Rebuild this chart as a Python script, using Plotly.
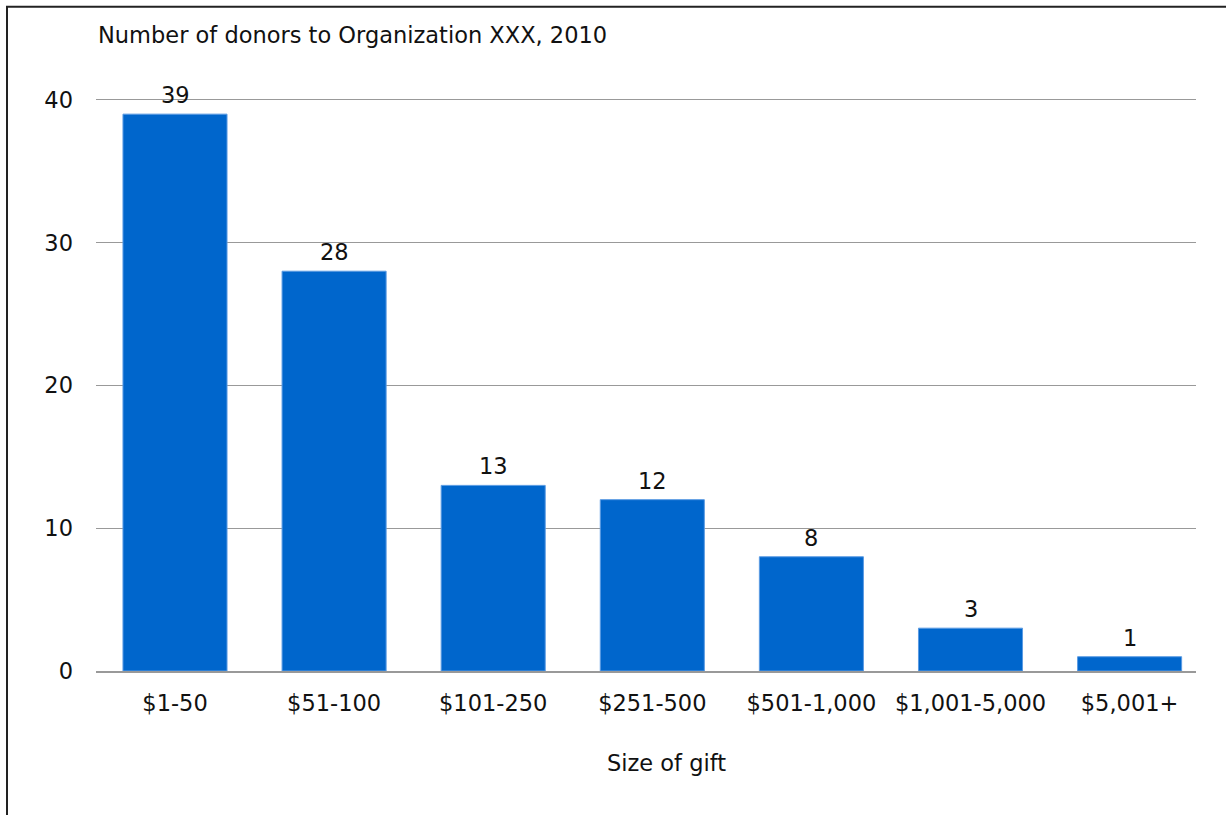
import plotly.graph_objects as go

categories = ["$1-50", "$51-100", "$101-250", "$251-500", "$501-1,000", "$1,001-5,000", "$5,001+"]
donors = [39, 28, 13, 12, 8, 3, 1]
y_ticks = [0, 10, 20, 30, 40]

FONT = "DejaVu Sans"
FS = 22.5
W, H = 1226, 815
Y_TOP = 40.2
L, R, B = 96, 1196, 671
T = B - (B - 100) * Y_TOP / 40.0

# category band geometry (pixels): first centre, spacing
C0, STEP = 175.0, 159.1
X_RANGE = [-(C0 - L) / STEP, (R - C0) / STEP]

def px_x(p):
    return (p - L) / (R - L)

def px_y(p):
    return (B - p) / (B - T)

fig = go.Figure()
fig.add_trace(go.Bar(
    x=categories, y=donors,
    marker=dict(color="#0066cc", line=dict(color="#5b9be3", width=1)),
    hoverinfo="x+y",
))

annotations = []
for c, v in zip(categories, donors):
    annotations.append(dict(x=c, y=v, xref="x", yref="y", text=str(v), showarrow=False,
                            yanchor="bottom", yshift=4, font=dict(family=FONT, size=FS, color="#111")))
annotations.append(dict(x=px_x(96), y=px_y(35), xref="paper", yref="paper", xanchor="left", yanchor="middle",
                        text="Number of donors to Organization XXX, 2010", showarrow=False,
                        font=dict(family=FONT, size=FS, color="#111")))
annotations.append(dict(x=px_x(666), y=px_y(763), xref="paper", yref="paper", xanchor="center", yanchor="middle",
                        text="Size of gift", showarrow=False,
                        font=dict(family=FONT, size=FS, color="#111")))

fig.update_layout(
    width=W, height=H,
    margin=dict(l=L, r=W - R, t=T, b=H - B, pad=0),
    paper_bgcolor="white", plot_bgcolor="white",
    bargap=0.346,
    showlegend=False,
    font=dict(family=FONT, size=FS, color="#111"),
    annotations=annotations,
    shapes=[
        dict(type="line", xref="paper", yref="paper", x0=px_x(7), x1=px_x(7), y0=px_y(7), y1=px_y(830),
             line=dict(color="#222", width=2)),
        dict(type="line", xref="paper", yref="paper", x0=px_x(6), x1=px_x(1240), y0=px_y(7), y1=px_y(7),
             line=dict(color="#222", width=2)),
    ],
)
fig.update_xaxes(range=X_RANGE, showgrid=False, showline=True, linecolor="#999", linewidth=1.5,
                 ticks="", ticklabelstandoff=11, tickfont=dict(family=FONT, size=FS, color="#111"))
fig.update_yaxes(range=[0, Y_TOP], tickvals=y_ticks, showgrid=True, gridcolor="#999", gridwidth=1,
                 zeroline=False, showline=False, ticks="", ticklabelstandoff=22,
                 tickfont=dict(family=FONT, size=FS, color="#111"))

fig.write_html("out.html", config={"displayModeBar": False},
               post_script="document.body.style.margin='0';document.body.style.overflow='hidden';")
